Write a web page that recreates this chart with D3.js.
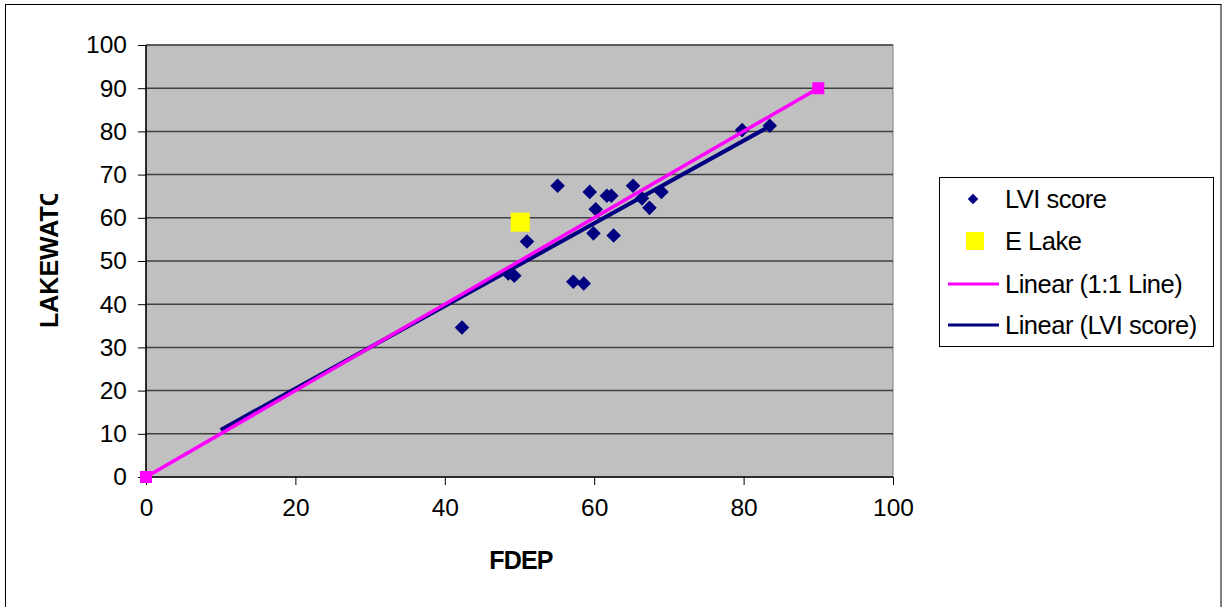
<!DOCTYPE html>
<html><head><meta charset="utf-8">
<script src="https://cdn.jsdelivr.net/npm/d3@7"></script>
<style>
html,body{margin:0;padding:0;background:#fff;}
text{font-family:Arial,"Liberation Sans",sans-serif;}
</style></head>
<body><svg id="c" width="1224" height="607"></svg>
<script>
// LVI score points (FDEP, LAKEWATCH)
const lviX = [55.1,59.4,61.7,62.3,65.2,66.4,69.0,67.4,60.2,51.0,59.9,62.6,48.5,49.3,57.2,58.6,42.3,79.8,83.5];
const lviY = [67.4,66.0,65.1,65.1,67.4,64.5,66.0,62.3,62.0,54.5,56.4,55.9,47.1,46.6,45.2,44.8,34.6,80.3,81.3];
// E Lake
const eLakeX = [50.1];
const eLakeY = [59.0];
// 1:1 line series
const oneX = [0,90];
const oneY = [0,90];
// Linear trend (LVI score) endpoints
const trendX = [10,83.5];
const trendY = [10.9,81.2];
const ticks = [0,10,20,30,40,50,60,70,80,90,100];
const xTicks = [0,20,40,60,80,100];
const legendLabels = ["LVI score","E Lake","Linear (1:1 Line)","Linear (LVI score)"];

const svg = d3.select("#c");
// outer chart border
svg.append("rect").attr("x",5.5).attr("y",4.5).attr("width",1215.5).attr("height",610)
  .attr("fill","#fff").attr("stroke","#000").attr("stroke-width",1);

const x = d3.scaleLinear().domain([0,100]).range([146,893]);
const y = d3.scaleLinear().domain([0,100]).range([477,45]);

// plot area
svg.append("rect").attr("x",x(0)).attr("y",y(100)).attr("width",x(100)-x(0)).attr("height",y(0)-y(100))
  .attr("fill","#c0c0c0").attr("stroke","#808080").attr("stroke-width",1);

// gridlines
svg.append("g").selectAll("line").data(ticks.filter(d=>d>0)).join("line")
  .attr("x1",x(0)).attr("x2",x(100)).attr("y1",d=>y(d)).attr("y2",d=>y(d))
  .attr("stroke","#404040").attr("stroke-width",1.5);

// axes
const yAxis = d3.axisLeft(y).tickValues(ticks).tickSize(8).tickPadding(10).tickFormat(d3.format("d"));
const gy = svg.append("g").attr("transform",`translate(${x(0)},0)`).call(yAxis);
const xAxis = d3.axisBottom(x).tickValues(xTicks).tickSize(8).tickPadding(14).tickFormat(d3.format("d"));
const gx = svg.append("g").attr("transform",`translate(0,${y(0)})`).call(xAxis);
[gx,gy].forEach(g=>{
  g.select(".domain").attr("stroke","#000").attr("stroke-width",1.5);
  g.selectAll(".tick line").attr("stroke","#000").attr("stroke-width",1);
  g.selectAll(".tick text").attr("font-size",24.5).attr("fill","#000").attr("font-family","Arial, 'Liberation Sans', sans-serif");
});
gy.select(".domain").attr("d",`M0,${y(0)}V${y(100)}`);
gx.select(".domain").attr("d",`M${x(0)},0H${x(100)}`);
gy.selectAll(".tick text").attr("dx",-1);

// LVI diamonds
const diamond = d3.symbol().type(d3.symbolDiamond2).size(135);
svg.append("g").selectAll("path").data(lviX.map((v,i)=>[v,lviY[i]])).join("path")
  .attr("d",diamond).attr("transform",d=>`translate(${x(d[0])},${y(d[1])})`).attr("fill","#000080");

// E Lake square
const sq = 19;
svg.append("g").selectAll("rect").data(eLakeX.map((v,i)=>[v,eLakeY[i]])).join("rect")
  .attr("x",d=>x(d[0])-sq/2).attr("y",d=>y(d[1])-sq/2).attr("width",sq).attr("height",sq).attr("fill","#ffff00");

// trend lines
const line = d3.line().x(d=>x(d[0])).y(d=>y(d[1]));
svg.append("path").datum(trendX.map((v,i)=>[v,trendY[i]])).attr("d",line)
  .attr("stroke","#000080").attr("stroke-width",4).attr("fill","none");
svg.append("path").datum(oneX.map((v,i)=>[v,oneY[i]])).attr("d",line)
  .attr("stroke","#ff00ff").attr("stroke-width",3.5).attr("fill","none");
// 1:1 markers
const ms = 12;
svg.append("g").selectAll("rect").data(oneX.map((v,i)=>[v,oneY[i]])).join("rect")
  .attr("x",d=>x(d[0])-ms/2).attr("y",d=>y(d[1])-ms/2).attr("width",ms).attr("height",ms).attr("fill","#ff00ff");

// axis titles
svg.append("text").attr("x",521).attr("y",569).attr("text-anchor","middle")
  .attr("font-size",25).attr("font-weight","bold").attr("letter-spacing",-0.8).text("FDEP");
svg.append("clipPath").attr("id","yc").append("rect").attr("x",0).attr("y",194).attr("width",100).attr("height",300);
svg.append("g").attr("clip-path","url(#yc)").append("text")
  .attr("transform","translate(58,328) rotate(-90)").attr("text-anchor","start")
  .attr("font-size",25).attr("font-weight","bold").text("LAKEWATC");

// legend
const lg = svg.append("g");
lg.append("rect").attr("x",939.5).attr("y",177.5).attr("width",274).attr("height",169)
  .attr("fill","#fff").attr("stroke","#000").attr("stroke-width",1);
const rowY = [199,241,284,325];
lg.selectAll("text").data(legendLabels).join("text")
  .attr("x",1005).attr("y",(d,i)=>rowY[i]+9).attr("font-size",25.5).attr("letter-spacing",-0.5).text(d=>d);
lg.append("path").attr("d",d3.symbol().type(d3.symbolDiamond2).size(70))
  .attr("transform",`translate(973,${rowY[0]})`).attr("fill","#000080");
lg.append("rect").attr("x",966).attr("y",rowY[1]-9).attr("width",18).attr("height",18).attr("fill","#ffff00");
lg.append("line").attr("x1",948).attr("x2",999).attr("y1",rowY[2]).attr("y2",rowY[2]).attr("stroke","#ff00ff").attr("stroke-width",3);
lg.append("line").attr("x1",948).attr("x2",999).attr("y1",rowY[3]).attr("y2",rowY[3]).attr("stroke","#000080").attr("stroke-width",3);
</script></body></html>
